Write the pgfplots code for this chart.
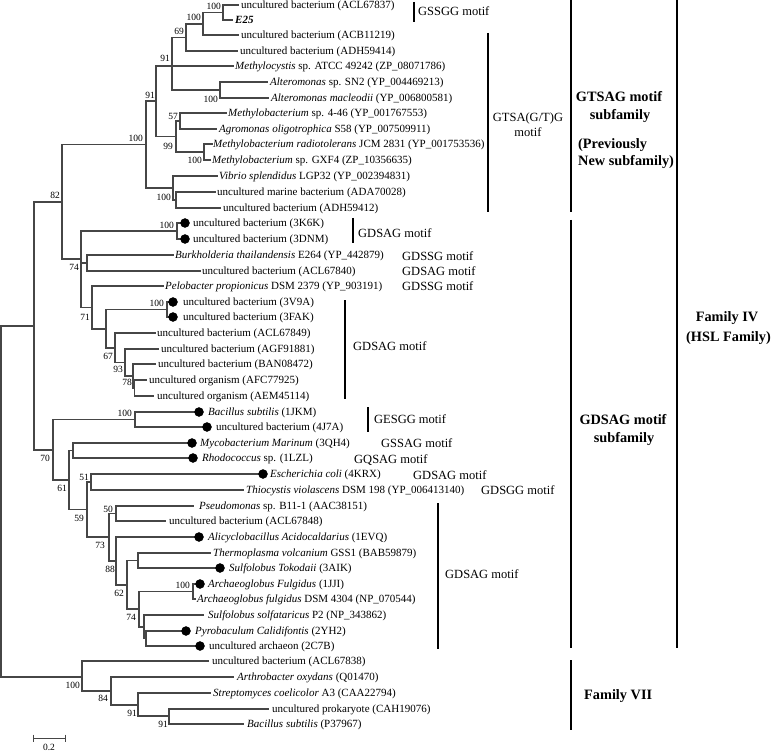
\documentclass[border=0pt]{standalone}
\usepackage{pgfplots}
\pgfplotsset{compat=1.18}
\usepackage{fontspec}
\setmainfont{Liberation Serif}
\definecolor{treegray}{RGB}{70,70,70}
\pgfplotsset{br/.style={no marks, color=treegray, line width=1.3pt, line join=miter, line cap=rect}}
\tikzset{
  lf/.style={anchor=base west, inner sep=0pt, font=\fontsize{11}{12}\selectfont},
  bs/.style={anchor=base east, inner sep=0pt, font=\fontsize{9.5}{10}\selectfont},
  mo/.style={anchor=base west, inner sep=0pt, font=\fontsize{12.5}{14}\selectfont},
  moc/.style={anchor=base, inner sep=0pt, font=\fontsize{12.5}{14}\selectfont},
  fam/.style={anchor=base, inner sep=0pt, font=\fontsize{14.3}{16}\selectfont\bfseries},
  famw/.style={anchor=base west, inner sep=0pt, font=\fontsize{14.3}{16}\selectfont\bfseries},
}
\begin{document}
\begin{tikzpicture}
\begin{axis}[
  width=778pt, height=751pt, scale only axis,
  xmin=0, xmax=778, ymin=0, ymax=751, y dir=reverse,
  hide axis, clip=false]
% ---- tree branches (node brackets) ----
\addplot[br] coordinates {(238,5)(223,5)(223,20)(232,20)};
\addplot[br] coordinates {(223,12.5)(203,12.5)(203,35)(238,35)};
\addplot[br] coordinates {(203,24)(186,24)(186,51)(237,51)};
\addplot[br] coordinates {(186,37.5)(172,37.5)(172,90)(220,90)};
\addplot[br] coordinates {(172,66)(233,66)};
\addplot[br] coordinates {(267,82)(220,82)(220,98)(268,98)};
\addplot[br] coordinates {(226,113)(180,113)(180,129)(216,129)};
\addplot[br] coordinates {(212,144)(204,144)(204,160)(210,160)};
\addplot[br] coordinates {(180,121)(176,121)(176,152)(204,152)};
\addplot[br] coordinates {(172,66)(156,66)(156,136.5)(176,136.5)};
\addplot[br] coordinates {(215,192)(176,192)(176,208)(220,208)};
\addplot[br] coordinates {(217,176)(173,176)(173,200)(176,200)};
\addplot[br] coordinates {(156,101)(146,101)(146,188)(173,188)};
\addplot[br] coordinates {(185,223)(177,223)(177,239)(185,239)};
\addplot[br] coordinates {(173,255)(87,255)(87,271)(200,271)};
\addplot[br] coordinates {(177,231)(81,231)(81,307.5)(92,307.5)};
\addplot[br] coordinates {(81,263)(87,263)};
\addplot[br] coordinates {(146,144.5)(62,144.5)(62,259)(81,259)};
\addplot[br] coordinates {(173,302)(167,302)(167,317)(173,317)};
\addplot[br] coordinates {(146,380)(134.5,380)(134.5,396)(153,396)};
\addplot[br] coordinates {(155,364)(133,364)(133,388)(134.5,388)};
\addplot[br] coordinates {(158,349)(125,349)(125,376)(133,376)};
\addplot[br] coordinates {(155,333)(115,333)(115,362.5)(125,362.5)};
\addplot[br] coordinates {(167,309.5)(106,309.5)(106,348)(115,348)};
\addplot[br] coordinates {(163,286)(92,286)(92,329)(106,329)};
\addplot[br] coordinates {(62,202)(34,202)(34,450)(53,450)};
\addplot[br] coordinates {(199,412)(135,412)(135,427)(207,427)};
\addplot[br] coordinates {(135,419.5)(53,419.5)(53,480)(69,480)};
\addplot[br] coordinates {(192,443)(73,443)(73,458)(193,458)};
\addplot[br] coordinates {(73,450.5)(69,450.5)(69,509.5)(87,509.5)};
\addplot[br] coordinates {(263,474)(91,474)(91,490)(243,490)};
\addplot[br] coordinates {(91,482)(87,482)(87,537)(109,537)};
\addplot[br] coordinates {(193,506)(116,506)(116,521)(165,521)};
\addplot[br] coordinates {(116,513.5)(109,513.5)(109,561)(116,561)};
\addplot[br] coordinates {(199,537)(116,537)(116,585)(127,585)};
\addplot[br] coordinates {(210,553)(138,553)(138,568)(220,568)};
\addplot[br] coordinates {(138,560.5)(127,560.5)(127,609)(139,609)};
\addplot[br] coordinates {(200,584)(193,584)(193,599)(195,599)};
\addplot[br] coordinates {(186,631)(146,631)(146,646)(200,646)};
\addplot[br] coordinates {(203,615)(144,615)(144,638.5)(146,638.5)};
\addplot[br] coordinates {(193,591.5)(139,591.5)(139,627)(144,627)};
\addplot[br] coordinates {(34,326)(1,326)(1,677)(82,677)};
\addplot[br] coordinates {(268,709)(169,709)(169,724)(243,724)};
\addplot[br] coordinates {(210,693)(138,693)(138,716)(169,716)};
\addplot[br] coordinates {(233,677)(111,677)(111,705)(138,705)};
\addplot[br] coordinates {(208,661)(82,661)(82,691)(111,691)};
% ---- structure markers ----
\addplot[only marks, mark=*, mark size=4.5pt, black] coordinates {
 (185,223)(185,239)(173,302)(173,317)(199,412)(207,427)(192,443)(193,458)
 (263,474)(199,537)(220,568)(200,584)(186,631)(200,646)};
% ---- scale bar ----
\addplot[no marks, color=treegray, line width=1pt] coordinates {(33,738)(65,738)};
\addplot[no marks, color=treegray, line width=1pt] coordinates {(33,734.5)(33,741.5)};
\addplot[no marks, color=treegray, line width=1pt] coordinates {(65,734.5)(65,741.5)};
% ---- bracket bars ----
\addplot[no marks, black, line width=1.8pt] coordinates {(414,2)(414,22)};
\addplot[no marks, black, line width=1.8pt] coordinates {(488,33)(488,212)};
\addplot[no marks, black, line width=1.8pt] coordinates {(571,0)(571,212)};
\addplot[no marks, black, line width=1.8pt] coordinates {(571,220)(571,648)};
\addplot[no marks, black, line width=1.8pt] coordinates {(571,660)(571,730)};
\addplot[no marks, black, line width=1.8pt] coordinates {(677,0)(677,648)};
\addplot[no marks, black, line width=1.8pt] coordinates {(353,218)(353,243)};
\addplot[no marks, black, line width=1.8pt] coordinates {(345,300)(345,399)};
\addplot[no marks, black, line width=1.8pt] coordinates {(368,407)(368,432)};
\addplot[no marks, black, line width=1.8pt] coordinates {(438,503)(438,649)};
% ---- leaf labels ----
\node[lf] at (241,8.5) {uncultured bacterium (ACL67837)};
\node[lf] at (235,23.5) {\textbf{\textit{E25}}};
\node[lf] at (241,38.5) {uncultured bacterium (ACB11219)};
\node[lf] at (240,54.5) {uncultured bacterium (ADH59414)};
\node[lf] at (235,69.5) {\textit{Methylocystis} sp. ATCC 49242 (ZP\_08071786)};
\node[lf] at (270,85.5) {\textit{Alteromonas} sp. SN2 (YP\_004469213)};
\node[lf] at (271,101.5) {\textit{Alteromonas macleodii} (YP\_006800581)};
\node[lf] at (228,116.5) {\textit{Methylobacterium} sp. 4-46 (YP\_001767553)};
\node[lf] at (219,132.5) {\textit{Agromonas oligotrophica} S58 (YP\_007509911)};
\node[lf] at (213,147.5) {\textit{Methylobacterium radiotolerans} JCM 2831 (YP\_001753536)};
\node[lf] at (212,163.5) {\textit{Methylobacterium} sp. GXF4 (ZP\_10356635)};
\node[lf] at (219,179.5) {\textit{Vibrio splendidus} LGP32 (YP\_002394831)};
\node[lf] at (217,195.5) {uncultured marine bacterium (ADA70028)};
\node[lf] at (223,211.5) {uncultured bacterium (ADH59412)};
\node[lf] at (193,226.5) {uncultured bacterium (3K6K)};
\node[lf] at (193,242.5) {uncultured bacterium (3DNM)};
\node[lf] at (175,258.5) {\textit{Burkholderia thailandensis} E264 (YP\_442879)};
\node[lf] at (202,274.5) {uncultured bacterium (ACL67840)};
\node[lf] at (165,289.5) {\textit{Pelobacter propionicus} DSM 2379 (YP\_903191)};
\node[lf] at (183,305.5) {uncultured bacterium (3V9A)};
\node[lf] at (183,320.5) {uncultured bacterium (3FAK)};
\node[lf] at (157,336.5) {uncultured bacterium (ACL67849)};
\node[lf] at (161,352.5) {uncultured bacterium (AGF91881)};
\node[lf] at (158,367.5) {uncultured bacterium (BAN08472)};
\node[lf] at (149,383.5) {uncultured organism (AFC77925)};
\node[lf] at (157,399.5) {uncultured organism (AEM45114)};
\node[lf] at (208,415.5) {\textit{Bacillus subtilis} (1JKM)};
\node[lf] at (216,430.5) {uncultured bacterium (4J7A)};
\node[lf] at (200,446.5) {\textit{Mycobacterium Marinum} (3QH4)};
\node[lf] at (202,461.5) {\textit{Rhodococcus} sp. (1LZL)};
\node[lf] at (270,477.5) {\textit{Escherichia coli} (4KRX)};
\node[lf] at (246,493.5) {\textit{Thiocystis violascens} DSM 198 (YP\_006413140)};
\node[lf] at (199,509.5) {\textit{Pseudomonas} sp. B11-1 (AAC38151)};
\node[lf] at (169,524.5) {uncultured bacterium (ACL67848)};
\node[lf] at (208,540.5) {\textit{Alicyclobacillus Acidocaldarius} (1EVQ)};
\node[lf] at (213,556.5) {\textit{Thermoplasma volcanium} GSS1 (BAB59879)};
\node[lf] at (229,571.5) {\textit{Sulfolobus Tokodaii} (3AIK)};
\node[lf] at (208,587.5) {\textit{Archaeoglobus Fulgidus} (1JJI)};
\node[lf] at (197,602.5) {\textit{Archaeoglobus fulgidus} DSM 4304 (NP\_070544)};
\node[lf] at (208,618.5) {\textit{Sulfolobus solfataricus} P2 (NP\_343862)};
\node[lf] at (195,634.5) {\textit{Pyrobaculum Calidifontis} (2YH2)};
\node[lf] at (209,649.5) {uncultured archaeon (2C7B)};
\node[lf] at (212,664.5) {uncultured bacterium (ACL67838)};
\node[lf] at (237,680.5) {\textit{Arthrobacter oxydans} (Q01470)};
\node[lf] at (213,696.5) {\textit{Streptomyces coelicolor} A3 (CAA22794)};
\node[lf] at (272,712.5) {uncultured prokaryote (CAH19076)};
\node[lf] at (247,727.5) {\textit{Bacillus subtilis} (P37967)};
% ---- bootstrap values ----
\node[bs] at (221,9.4) {100};
\node[bs] at (201,20.4) {100};
\node[bs] at (184,34.4) {69};
\node[bs] at (170,61.4) {91};
\node[bs] at (218,102.4) {100};
\node[bs] at (178,119.4) {57};
\node[bs] at (202,163.4) {100};
\node[bs] at (173,149.4) {99};
\node[bs] at (155,98.4) {91};
\node[bs] at (171,200.4) {100};
\node[bs] at (143,141.4) {100};
\node[bs] at (60,198.4) {82};
\node[bs] at (174,228.4) {100};
\node[bs] at (79,270.4) {74};
\node[bs] at (90,320.4) {71};
\node[bs] at (164,306.4) {100};
\node[bs] at (113,359.4) {67};
\node[bs] at (123,372.4) {93};
\node[bs] at (132,385.4) {78};
\node[bs] at (132,416.4) {100};
\node[bs] at (50,461.4) {70};
\node[bs] at (67,491.4) {61};
\node[bs] at (89,480.4) {51};
\node[bs] at (84,521.4) {59};
\node[bs] at (113,512.4) {50};
\node[bs] at (105,548.4) {73};
\node[bs] at (115,572.4) {88};
\node[bs] at (124,596.4) {62};
\node[bs] at (136,620.4) {74};
\node[bs] at (190,588.4) {100};
\node[bs] at (80,688.4) {100};
\node[bs] at (108,701.4) {84};
\node[bs] at (137,716.4) {91};
\node[bs] at (168,727.4) {91};
\node[anchor=base, inner sep=0pt, font=\fontsize{9.5}{10}\selectfont] at (49,750.5) {0.2};
% ---- motif labels ----
\node[mo] at (418,16) {GSSGG motif};
\node[moc] at (528,122) {GTSA(G/T)G};
\node[moc] at (528,137) {motif};
\node[mo] at (358,237) {GDSAG motif};
\node[mo] at (402,260) {GDSSG motif};
\node[mo] at (402,275) {GDSAG motif};
\node[mo] at (402,290) {GDSSG motif};
\node[mo] at (353,350) {GDSAG motif};
\node[mo] at (374,423) {GESGG motif};
\node[mo] at (381,447) {GSSAG motif};
\node[mo] at (354,463) {GQSAG motif};
\node[mo] at (413,479) {GDSAG motif};
\node[mo] at (481,494) {GDSGG motif};
\node[mo] at (445,578) {GDSAG motif};
% ---- family labels ----
\node[fam] at (619,102) {GTSAG motif};
\node[fam] at (620,120) {subfamily};
\node[famw] at (578,149) {(Previously};
\node[famw] at (578,166) {New subfamily)};
\node[fam] at (623,424) {GDSAG motif};
\node[fam] at (624,442) {subfamily};
\node[fam] at (727,321) {Family IV};
\node[famw] at (686,341) {(HSL Family)};
\node[famw] at (584,699) {Family VII};
\end{axis}
\pgfresetboundingbox
\path[use as bounding box] (current axis.south west) rectangle (current axis.north east);
\end{tikzpicture}
\end{document}
